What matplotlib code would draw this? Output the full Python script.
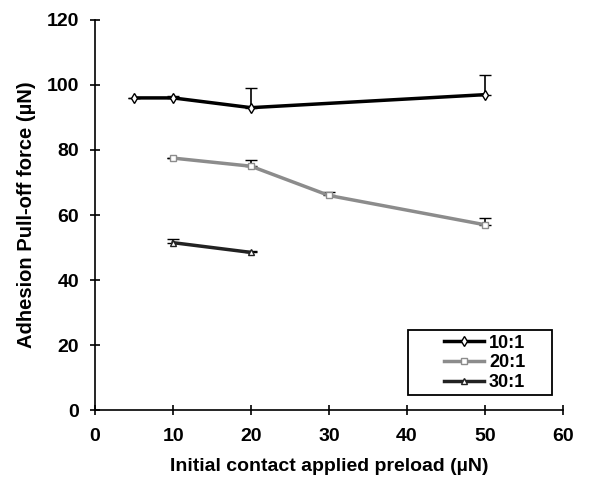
import numpy as np
import matplotlib.pyplot as plt
from matplotlib.lines import Line2D
from matplotlib.patches import Rectangle

plt.rcParams['font.family'] = ['Liberation Sans', 'DejaVu Sans']

# Данные
x_10 = [5, 10, 20, 50]
y_10 = [96, 96, 93, 97]
err_10 = [0, 0.5, 6, 6]

x_20 = [10, 20, 30, 50]
y_20 = [77.5, 75, 66, 57]
err_20 = [0, 2, 1, 2]

x_30 = [10, 20]
y_30 = [51.5, 48.5]
err_30 = [1, 0.5]

labels = ['10:1', '20:1', '30:1']

fig = plt.figure(figsize=(6.02, 4.96), dpi=100)
ax = fig.add_axes([0.158, 0.173, 0.777, 0.787])

series = [
    (x_10, y_10, err_10, 'black', 'd', 5),
    (x_20, y_20, err_20, '#8c8c8c', 's', 4.5),
    (x_30, y_30, err_30, '#222222', '^', 5),
]
handles = []
for (x, y, e, c, m, ms), lab in zip(series, labels):
    ax.errorbar(x, y, yerr=[np.zeros(len(e)), e], color=c, lw=2.5,
                marker=m, ms=ms, mfc='white', mec=c, mew=1,
                ecolor='black', elinewidth=1.2, capsize=4, capthick=1.2)
    handles.append(Line2D([], [], color=c, lw=2.5, marker=m, ms=ms,
                          mfc='white', mec=c, mew=1, label=lab))

ax.set_xlim(0, 60)
ax.set_ylim(0, 120)
ax.set_xticks(range(0, 61, 10))
ax.set_yticks(range(0, 121, 20))
ax.spines['top'].set_visible(False)
ax.spines['right'].set_visible(False)
ax.spines['left'].set_linewidth(1.2)
ax.spines['bottom'].set_linewidth(1.2)
ax.tick_params(direction='inout', length=7, width=1.2, labelsize=14)
ax.tick_params(axis='x', pad=9)
ax.tick_params(axis='y', pad=8)
for t in ax.get_xticklabels() + ax.get_yticklabels():
    t.set_fontweight('bold')
ax.set_xlabel('Initial contact applied preload (µN)', fontsize=14,
              fontweight='bold', labelpad=10)
ax.set_ylabel('Adhesion Pull-off force (µN)', fontsize=14.5,
              fontweight='bold', labelpad=8)

# рамка легенды
frame = Rectangle((0.669, 0.038), 0.307, 0.167, transform=ax.transAxes,
                  fill=True, facecolor='white', edgecolor='black', lw=1.3,
                  zorder=4)
ax.add_patch(frame)
leg = ax.legend(handles=handles, loc='center',
                bbox_to_anchor=(0.669 + 0.307 / 2 + 0.01, 0.038 + 0.167 / 2),
                prop={'size': 13, 'weight': 'bold'}, frameon=False,
                handlelength=2.2, handletextpad=0.3, labelspacing=0.15)
leg.set_zorder(5)

plt.savefig('out.png', dpi=100)
